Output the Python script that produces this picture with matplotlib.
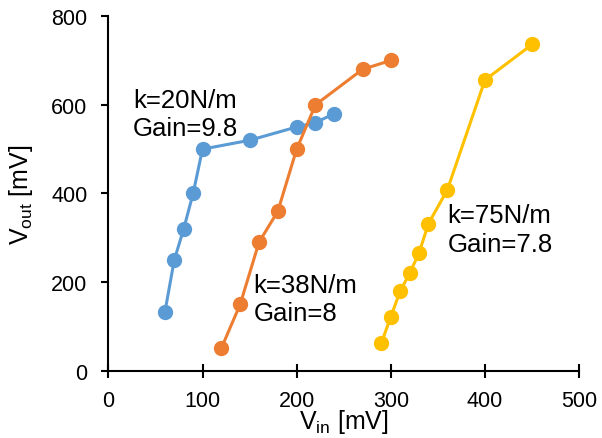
import matplotlib
matplotlib.use("Agg")
import matplotlib.pyplot as plt

plt.rcParams['font.family'] = ['Liberation Sans', 'DejaVu Sans']

vin_20 = [60, 70, 80, 90, 100, 150, 200, 220, 240]
vout_20 = [132, 250, 320, 400, 500, 520, 550, 560, 580]
vin_38 = [120, 140, 160, 180, 200, 220, 270, 300]
vout_38 = [51, 150, 290, 360, 500, 600, 680, 700]
vin_75 = [290, 300, 310, 320, 330, 340, 360, 400, 450]
vout_75 = [63, 122, 180, 220, 266, 332, 408, 656, 736]

colors = ['#5B9BD5', '#ED7D31', '#FFC000']
labels = ["k=20N/m\nGain=9.8", "k=38N/m\nGain=8", "k=75N/m\nGain=7.8"]
label_pos = [(26, 579), (154, 162), (360, 318)]

fig = plt.figure(figsize=(6.02, 4.39), dpi=100)
ax = fig.add_axes([0.18, 0.153, 0.782, 0.808])

for xs, ys, c in zip([vin_20, vin_38, vin_75], [vout_20, vout_38, vout_75], colors):
    ax.plot(xs, ys, '-o', color=c, lw=2.2, markersize=10, zorder=3)

for (tx, ty), t in zip(label_pos, labels):
    ax.text(tx, ty, t, fontsize=18.5, ha='left', va='center', linespacing=1.25)

ax.set_xlim(0, 500)
ax.set_ylim(0, 800)
ax.set_xticks([0, 100, 200, 300, 400, 500])
ax.set_yticks([0, 200, 400, 600, 800])
ax.spines['top'].set_visible(False)
ax.spines['right'].set_visible(False)
for s in ['left', 'bottom']:
    ax.spines[s].set_linewidth(1.5)
ax.tick_params(axis='x', direction='inout', length=10, width=1.5, labelsize=15.5, pad=9)
ax.tick_params(axis='y', direction='out', length=5, width=1.5, labelsize=15.5, pad=10)
ax.set_xlabel('V$_{\\mathregular{in}}$ [mV]', fontsize=18, labelpad=-3)
ax.set_ylabel('V$_{\\mathregular{out}}$ [mV]', fontsize=18, labelpad=12)

fig.savefig('out.png', dpi=100)
